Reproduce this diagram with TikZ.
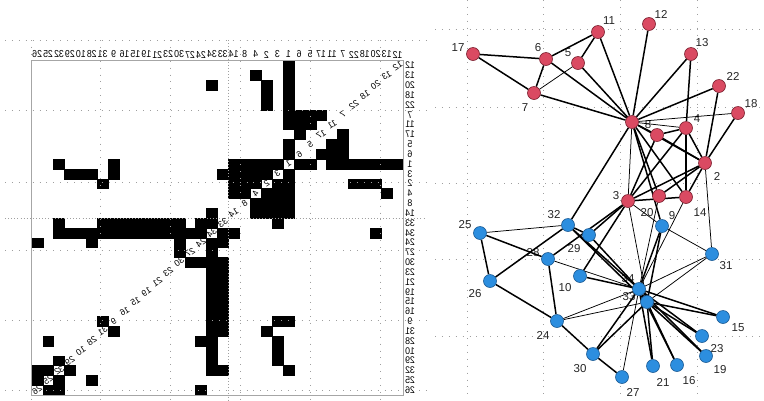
\documentclass[tikz,border=0pt]{standalone}
\usepackage{fontspec}
\setmainfont{Liberation Sans}
\usepackage{graphicx}
\pgfdeclarelayer{background}
\pgfsetlayers{background,main}
\definecolor{rfill}{HTML}{DA4A62}
\definecolor{rdraw}{HTML}{7A1F2E}
\definecolor{bfill}{HTML}{2C8EDF}
\definecolor{bdraw}{HTML}{1B5A94}
\tikzset{
  griddot/.style={gray!75, line width=0.9pt, dash pattern=on 0.9pt off 6pt},
  densedot/.style={gray!75, line width=0.9pt, dash pattern=on 0.9pt off 2.2pt},
  rn/.style={circle, fill=rfill, draw=rdraw, line width=0.6pt, minimum size=13pt, inner sep=0pt},
  bn/.style={circle, fill=bfill, draw=bdraw, line width=0.6pt, minimum size=13pt, inner sep=0pt},
  glab/.style={font=\fontsize{11.5}{12}\selectfont, inner sep=0pt, text=black!85},
  collab/.style={font=\fontsize{8.8}{9}\selectfont, inner sep=0pt},
  rowlab/.style={font=\fontsize{8.8}{9}\selectfont, inner sep=0pt},
  diaglab/.style={font=\fontsize{8.8}{9}\selectfont, inner sep=0pt, rotate=35},
  ethick/.style={line width=1.5pt},
  ethin/.style={line width=0.75pt},
  frame/.style={gray!70, line width=0.9pt}
}
\def\idxarr{{0,10,12,11,13,8,9,5,14,26,29,6,0,1,15,24,25,7,3,23,2,22,4,21,18,32,33,19,28,30,20,27,31,16,17}}
\def\mL{31.7}\def\mR{403}\def\mT{60.7}\def\mB{395}
\def\cw{10.92}\def\ch{9.83}
\begin{document}
\begin{tikzpicture}[x=1pt,y=-1pt]
\useasboundingbox (0,0) rectangle (764,400);
\begin{pgfonlayer}{background}
\fill[white] (0,0) rectangle (764,400);
\end{pgfonlayer}
% ---------------- adjacency matrix (mirrored) ----------------
\foreach \a/\b in {1/2,1/3,1/4,1/5,1/6,1/7,1/8,1/9,1/11,1/12,1/13,1/14,1/18,1/20,1/22,1/32,
  2/3,2/4,2/8,2/14,2/18,2/20,2/22,2/31,3/4,3/8,3/9,3/10,3/14,3/28,3/29,3/33,
  4/8,4/13,4/14,5/7,5/11,6/7,6/11,6/17,7/17,9/31,9/33,9/34,10/34,14/34,
  15/33,15/34,16/33,16/34,19/33,19/34,20/34,21/33,21/34,23/33,23/34,
  24/26,24/28,24/30,24/33,24/34,25/26,25/28,25/32,26/32,27/30,27/34,28/34,
  29/32,29/34,30/33,30/34,31/33,31/34,32/33,32/34,33/34}{
  \pgfmathtruncatemacro\ia{\idxarr[\a]}
  \pgfmathtruncatemacro\ib{\idxarr[\b]}
  \fill[black, draw=black, line width=0.2pt] ({\mR-(\ib+1)*\cw},{\mT+\ia*\ch}) rectangle ++(\cw,\ch);
  \fill[black, draw=black, line width=0.2pt] ({\mR-(\ia+1)*\cw},{\mT+\ib*\ch}) rectangle ++(\cw,\ch);
}
% left grid
\foreach \yy in {40,110,182,250,320,390} \draw[griddot] (5,\yy) -- (430,\yy);
\foreach \xx in {31,100,170,240,310,380} \draw[griddot] (\xx,40) -- (\xx,400);
\draw[densedot] (228.6,40) -- (228.6,400);
\draw[densedot] (5,218) -- (425,218);
% frame
\draw[frame] (\mL,\mT) rectangle (\mR,\mB);
% labels
\foreach \n [count=\i from 0] in {12,13,20,18,22,7,11,17,5,6,1,3,2,4,8,14,33,34,24,27,30,23,21,19,15,16,9,31,28,10,29,32,25,26}{
  \node[collab] (c\i) at ({\mR-(\i+0.5)*\cw},54.5) {\scalebox{-1}[1.15]{\n}};
  \node[rowlab] (r\i) at (410,{\mT+(\i+0.5)*\ch}) {\scalebox{-1}[1.1]{\n}};
  \node[diaglab] (d\i) at ({\mR-(\i+0.5)*\cw},{\mT+(\i+0.5)*\ch}) {\reflectbox{\n}};
}
% ---------------- graph ----------------
\begin{pgfonlayer}{background}
\foreach \yy in {29,107,183,259,336} \draw[griddot] (435,\yy) -- (764,\yy);
\foreach \xx in {467,543,620,697} \draw[griddot] (\xx,0) -- (\xx,400);
\end{pgfonlayer}
\foreach \n/\x/\y in {1/632/122, 2/705/163, 3/628/201, 4/686/128, 5/578/63, 6/546/59, 7/534/93, 8/657/135,
  11/598/32, 12/649/24, 13/691/54, 14/686/197, 17/473/54, 18/738/113, 20/659/196, 22/719/86}
  \node[rn] (n\n) at (\x,\y) {};
\foreach \n/\x/\y in {9/662/226, 10/580/276, 15/723/317, 16/677/365, 19/706/356, 21/653/366, 23/702/336,
  24/557/321, 25/480/233, 26/490/281, 27/622/377, 28/548/259, 29/589/235, 30/593/354, 31/712/254,
  32/568/225, 33/647/302, 34/639/289}
  \node[bn] (n\n) at (\x,\y) {};
\begin{pgfonlayer}{background}
\foreach \n/\x/\y in {17/458/48, 6/538/48, 5/568/53, 11/609/21, 12/661/14, 13/702/43, 22/733/76, 18/751/104,
  7/525/108, 8/648/125, 4/697/119, 2/717/176, 3/616/196, 20/647/213, 14/700/213, 9/672/216, 32/554/215,
  29/574/249, 25/465/225, 28/533/253, 31/726/266, 26/475/294, 10/565/288, 34/628/279, 33/629/297,
  15/738/328, 24/543/335, 23/717/349, 19/720/370, 30/580/369, 21/663/382, 16/689/381, 27/633/392}
  \node[glab] (l\n) at (\x,\y) {\n};
\foreach \a/\b in {1/2,1/5,1/6,1/7,1/8,1/9,1/11,1/12,1/13,1/14,1/20,1/22,1/32,2/3,2/4,2/8,2/14,2/18,2/20,2/22,
  3/4,3/8,3/10,3/14,3/28,3/29,4/8,4/13,4/14,5/11,6/7,6/11,6/17,7/17,9/33,9/34,10/34,15/33,15/34,16/33,16/34,
  19/33,19/34,21/33,21/34,23/33,23/34,24/26,24/28,24/30,25/26,25/28,26/32,27/30,29/32,29/34,30/33,30/34,
  32/33,32/34,33/34}
  \draw[ethick] (n\a) -- (n\b);
\foreach \a/\b in {1/3,1/4,1/18,5/7,3/9,25/32,28/34,24/33,24/34,31/33,31/34,3/33,27/34,20/34,14/34,9/31,2/31}
  \draw[ethin] (n\a) -- (n\b);
\end{pgfonlayer}
\end{tikzpicture}
\end{document}
